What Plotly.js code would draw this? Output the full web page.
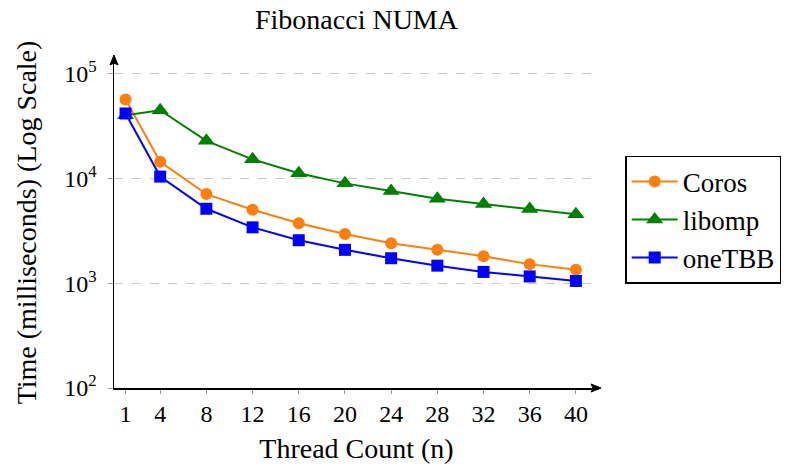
<!DOCTYPE html>
<html><head><meta charset="utf-8">
<script src="https://cdn.plot.ly/plotly-3.0.1.min.js"></script>
<style>html,body{margin:0;padding:0;background:#fff}#c{width:786px;height:468px}</style>
</head><body><div id="c"></div>
<script>
const threads = [1, 4, 8, 12, 16, 20, 24, 28, 32, 36, 40];
const coros  = [56500, 14400, 7080, 5020, 3730, 2950, 2400, 2080, 1810, 1520, 1340];
const libomp = [40100, 44700, 22800, 15200, 11200, 8960, 7570, 6400, 5690, 5100, 4540];
const onetbb = [41600, 10400, 5130, 3410, 2570, 2080, 1730, 1470, 1280, 1160, 1050];
const yTickVals = [100, 1000, 10000, 100000];
const yTickText = ['10<sup>2</sup>', '10<sup>3</sup>', '10<sup>4</sup>', '10<sup>5</sup>'];

const font = 'Liberation Serif, DejaVu Serif, serif';
const mk = (name, y, color, symbol, size) => ({
  x: threads, y: y, name: name, type: 'scatter', mode: 'lines+markers',
  line: {color: color, width: 2},
  marker: {color: color, symbol: symbol, size: size}
});
const data = [
  mk('Coros', coros, '#ff7f0e', 'circle', 12),
  mk('libomp', libomp, '#008000', 'triangle-up', 15),
  mk('oneTBB', onetbb, '#0000ff', 'square', 12)
];
const arrowShape = (x, y, path) => ({
  type: 'path', xref: 'paper', yref: 'paper', xsizemode: 'pixel', ysizemode: 'pixel',
  xanchor: x, yanchor: y, path: path, fillcolor: '#000', line: {color: '#000', width: 1}
});
const layout = {
  width: 786, height: 468,
  margin: {l: 114, r: 187, t: 57, b: 80, autoexpand: false},
  paper_bgcolor: '#fff', plot_bgcolor: '#fff',
  font: {family: font, size: 24, color: '#000'},
  title: {text: 'Fibonacci NUMA', xref: 'paper', x: 0.5, xanchor: 'center',
          yref: 'container', y: 0.958, yanchor: 'middle', font: {family: font, size: 28, color: '#000'}},
  xaxis: {
    range: [0, 42], tickvals: threads, ticktext: threads.map(String),
    showgrid: false, zeroline: false, showline: true, linecolor: '#000', linewidth: 1.5,
    ticks: 'outside', ticklen: 4, tickcolor: '#999', tickwidth: 1,
    tickfont: {family: font, size: 24},
    title: {text: 'Thread Count (n)', font: {family: font, size: 28}, standoff: 12}
  },
  yaxis: {
    type: 'log', range: [2, 5.158], tickvals: yTickVals, ticktext: yTickText,
    showgrid: true, gridcolor: '#c8c8c8', griddash: 'dash', gridwidth: 1,
    zeroline: false, showline: true, linecolor: '#000', linewidth: 1.5,
    ticks: 'outside', ticklen: 5, tickcolor: '#999', tickwidth: 1,
    tickfont: {family: font, size: 24}, ticklabelstandoff: 6,
    title: {text: 'Time (milliseconds) (Log Scale)', font: {family: font, size: 28}, standoff: 19}
  },
  legend: {
    x: 1.054, xanchor: 'left', y: 0.508, yanchor: 'middle',
    bordercolor: '#000', borderwidth: 1.5, bgcolor: '#fff',
    font: {family: font, size: 27}, tracegroupgap: 0, itemwidth: 46
  },
  shapes: [
    arrowShape(1, 0, 'M 2 0 L -8 4 L -6 0 L -8 -4 Z'),
    arrowShape(0, 1, 'M 0 2 L -4 -8 L 0 -6 L 4 -8 Z')
  ],
  showlegend: true
};
Plotly.newPlot('c', data, layout, {displayModeBar: false, staticPlot: true});
</script></body></html>
